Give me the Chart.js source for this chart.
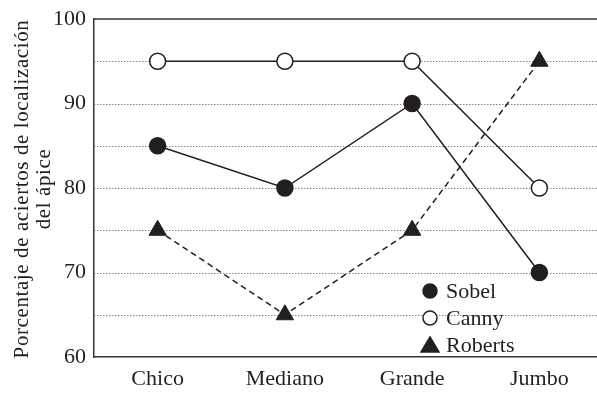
<!DOCTYPE html>
<html><head><meta charset="utf-8">
<script src="https://cdn.jsdelivr.net/npm/chart.js@4/dist/chart.umd.min.js"></script>
<style>html,body{margin:0;padding:0;background:#fff;overflow:hidden}canvas{display:block}</style>
</head><body><canvas id="c" width="603" height="395"></canvas>
<script>
const categories = ['Chico','Mediano','Grande','Jumbo'];
const sobel = [85, 80, 90, 70];
const canny = [95, 95, 95, 80];
const roberts = [75, 65, 75, 95];
const yTicks = [60, 70, 80, 90, 100];
const yTitle = ['Porcentaje de aciertos de localización','del ápice'];
const ink = '#231f20';
const FONT = '"Liberation Serif", "DejaVu Serif", serif';

const frame = {
  id:'frame',
  beforeDatasetsDraw(chart){
    const {ctx, chartArea:a, scales:{y}} = chart;
    ctx.save(); ctx.strokeStyle='#888'; ctx.lineWidth=1; ctx.setLineDash([1.5,1.5]);
    for (let v=65; v<100; v+=5){
      const py = Math.round(y.getPixelForValue(v))+0.5;
      ctx.beginPath(); ctx.moveTo(a.left, py); ctx.lineTo(a.right, py); ctx.stroke();
    }
    ctx.restore();
  },
  afterDatasetsDraw(chart){
    const {ctx, chartArea:a} = chart;
    ctx.save();
    ctx.strokeStyle = '#333'; ctx.lineWidth = 1.5;
    ctx.beginPath(); ctx.moveTo(a.left, a.top); ctx.lineTo(a.right, a.top); ctx.stroke();
    // y title
    ctx.fillStyle = ink; ctx.textAlign = 'center'; ctx.textBaseline = 'middle';
    ctx.font = '21px ' + FONT;
    try { ctx.letterSpacing = '0.6px'; } catch(e) {}
    const cy = (a.top + a.bottom) / 2 + 1;
    [22, 44].forEach((x, i) => {
      ctx.save(); ctx.translate(x, cy); ctx.rotate(-Math.PI/2);
      ctx.fillText(yTitle[i], 0, 0); ctx.restore();
    });
    try { ctx.letterSpacing = '0px'; } catch(e) {}
    // legend
    const items = chart.data.datasets;
    const x0 = 430, y0 = 291, dy = 27;
    ctx.font = '22px ' + FONT; ctx.textAlign = 'left';
    items.forEach((d,i)=>{
      const y = y0 + i*dy;
      ctx.fillStyle = d.pointBackgroundColor; ctx.strokeStyle = ink; ctx.lineWidth = 1.5;
      ctx.beginPath();
      if (d.pointStyle === 'circle') { ctx.arc(x0, y, 7, 0, Math.PI*2); }
      else { ctx.moveTo(x0, y-8); ctx.lineTo(x0+9, y+7); ctx.lineTo(x0-9, y+7); ctx.closePath(); }
      ctx.fill(); ctx.stroke();
      ctx.fillStyle = ink;
      ctx.fillText(d.label, x0 + 16, y + 1);
    });
    ctx.restore();
  }
};

new Chart(document.getElementById('c'), {
  type:'line',
  data:{
    labels:categories,
    datasets:[
      {label:'Sobel', data:sobel, borderColor:ink, borderWidth:1.5, pointStyle:'circle', pointRadius:8, pointBackgroundColor:ink, pointBorderColor:ink, pointBorderWidth:1.5},
      {label:'Canny', data:canny, borderColor:ink, borderWidth:1.5, pointStyle:'circle', pointRadius:8, pointBackgroundColor:'#fff', pointBorderColor:ink, pointBorderWidth:1.5},
      {label:'Roberts', data:roberts, borderColor:ink, borderWidth:1.5, borderDash:[6,4], pointStyle:'triangle', pointRadius:10, pointBackgroundColor:ink, pointBorderColor:ink, pointBorderWidth:1}
    ]
  },
  options:{
    responsive:false, animation:false,
    layout:{autoPadding:false, padding:{top:16, right:0, left:0, bottom:0}},
    plugins:{legend:{display:false}, tooltip:{enabled:false}},
    scales:{
      x:{
        offset:true,
        grid:{display:false, drawTicks:false},
        border:{color:'#333', width:1.5},
        ticks:{color:ink, font:{family:FONT, size:22}, padding:9},
        afterFit(s){ s.height = 38; }
      },
      y:{
        min:60, max:100,
        grid:{display:false, drawTicks:false},
        border:{color:'#333', width:1.5},
        afterBuildTicks(s){ s.ticks = yTicks.map(v=>({value:v})); },
        ticks:{color:ink, font:{family:FONT, size:22, lineHeight:1}, padding:8},
        afterFit(s){ s.width = 94; }
      }
    }
  },
  plugins:[frame]
});
</script></body></html>
